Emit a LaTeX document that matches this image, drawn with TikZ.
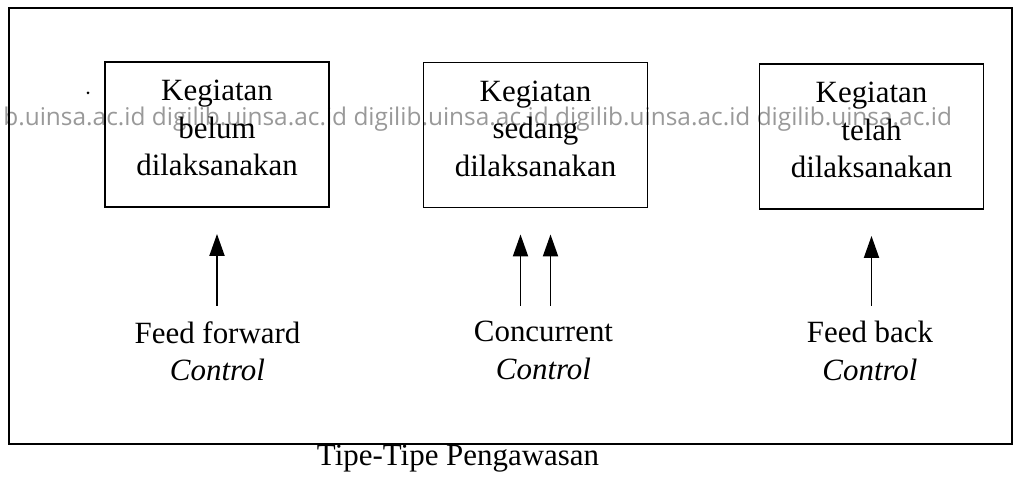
\documentclass[tikz,border=0pt]{standalone}
\usepackage{fontspec}
\setmainfont{Liberation Serif}
\newfontfamily\wmfont{Open Sans}
\usetikzlibrary{arrows.meta, calc}

\tikzset{
  kotak/.style={draw, line width=1.1pt, minimum width=4.48cm, minimum height=2.9cm,
    align=center, text depth=0.26cm, inner sep=0pt},
  ket/.style={anchor=north, align=center, inner sep=0pt},
  panah/.style={line width=1.1pt, -{Triangle[length=0.44cm, width=0.3cm]}},
}

\begin{document}
\begin{tikzpicture}[x=0.02cm, y=-0.02cm, font=\fontsize{17.6pt}{21.3pt}\selectfont]
\useasboundingbox (0,0) rectangle (1015,482);
% watermark
\node [anchor=base west, inner sep=0pt, text=black!40, font=\wmfont\fontsize{13.9pt}{14pt}\selectfont] (wm) at (3,126)
  {b.uinsa.ac.id digilib.uinsa.ac.id digilib.uinsa.ac.id digilib.uinsa.ac.id digilib.uinsa.ac.id};
% frame
\draw [line width=1.1pt] (9,8) rectangle (1012,444);
\draw [line width=1.7pt] (9,444) -- (1012,444);
\fill (88,93) circle [radius=0.03cm];
% boxes
\node [kotak] (b1) at (217,134.5) {Kegiatan\\belum\\dilaksanakan};
\node [kotak] (b2) at (535.5,135) {Kegiatan\\sedang\\dilaksanakan};
\node [kotak] (b3) at (871.5,136.5) {Kegiatan\\telah\\dilaksanakan};
% labels
\node [ket] (ff) at (217.5,321) {Feed forward\\\textit{Control}};
\node [ket] (cc) at (543.5,321) {Concurrent\\\textit{Control}};
\node [ket] (fb) at (870,321) {Feed back\\\textit{Control}};
% arrows
\draw [panah] ($(b1.south |- ff.north)+(0,-15)$) -- ($(b1.south)+(0,26)$);
\draw [panah] ($(b2.south |- cc.north)+(-15,-15)$) -- ($(b2.south)+(-15,26)$);
\draw [panah] ($(b2.south |- cc.north)+(15,-15)$) -- ($(b2.south)+(15,26)$);
\draw [panah] ($(b3.south |- fb.north)+(0,-15)$) -- ($(b3.south)+(0,26)$);
\node [anchor=base, inner sep=0pt] (judul) at (458,466) {Tipe-Tipe Pengawasan};
\end{tikzpicture}
\end{document}
